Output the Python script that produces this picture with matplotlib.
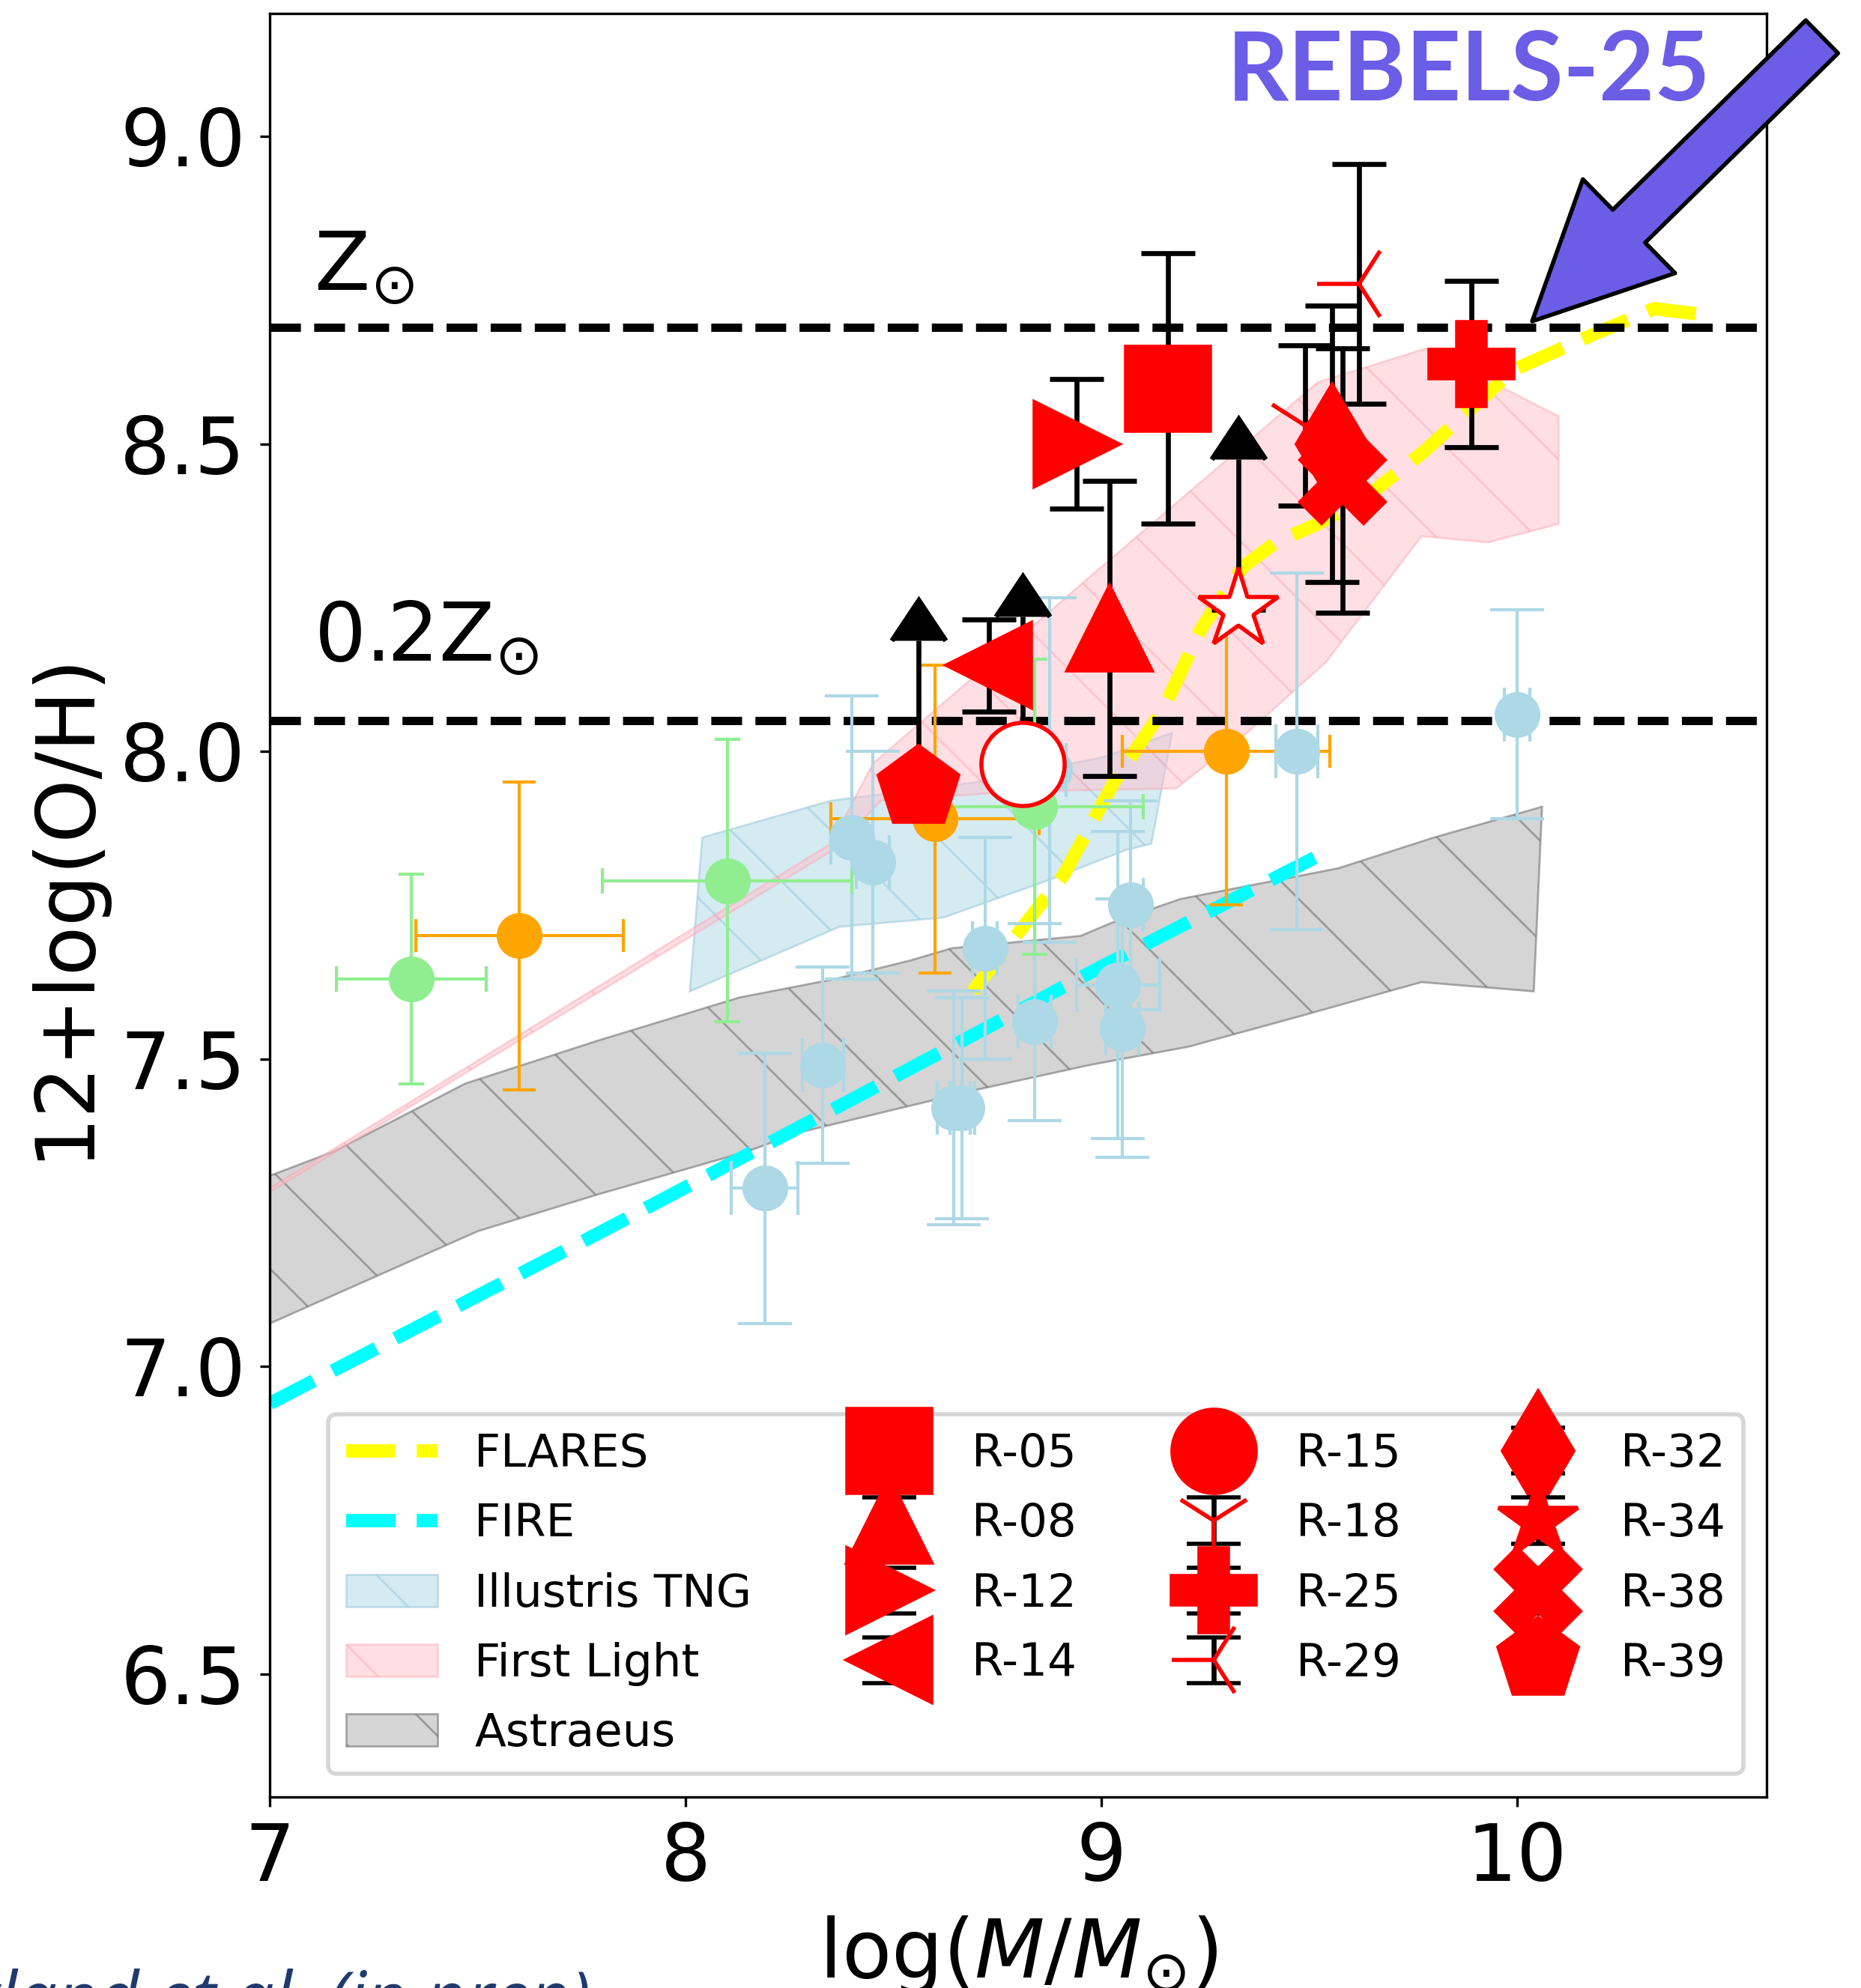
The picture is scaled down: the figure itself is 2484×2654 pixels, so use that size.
import numpy as np
import matplotlib
matplotlib.use("Agg")
import matplotlib.pyplot as plt
from matplotlib import font_manager
from matplotlib.patches import FancyArrowPatch, ArrowStyle

# ---------------- data ----------------
# Model curves
flares_x = [8.69, 8.91, 9.03, 9.15, 9.24, 9.29, 9.34, 9.42, 9.52, 9.63, 9.78, 9.99, 10.19, 10.33, 10.45]
flares_y = [7.61, 7.80, 7.95, 8.07, 8.20, 8.25, 8.30, 8.34, 8.37, 8.41, 8.49, 8.62, 8.68, 8.72, 8.71]

fire_x = [7.00, 7.80, 8.50, 9.00, 9.55]
fire_y = [6.94, 7.22, 7.47, 7.65, 7.84]

# Illustris TNG band (polygon vertices: upper edge then lower edge reversed)
tng_x = [8.04, 8.35, 8.70, 9.00, 9.17, 9.12, 9.06, 8.87, 8.62, 8.37, 8.01]
tng_y = [7.86, 7.92, 7.95, 7.99, 8.03, 7.85, 7.84, 7.79, 7.73, 7.715, 7.61]

# First Light band
fl_x = [7.00, 8.35, 8.45, 9.00, 9.52, 9.78, 10.10, 10.10, 9.93, 9.77, 9.54, 9.35, 9.18, 8.80, 8.47, 8.36, 7.00]
fl_y = [7.290, 7.850, 7.98, 8.30, 8.60, 8.655, 8.545, 8.37, 8.34, 8.35, 8.145, 8.03, 7.94, 7.935, 7.92, 7.842, 7.284]

# Astraeus band
ast_x = [7.00, 7.155, 7.47, 7.79, 8.13, 8.36, 8.54, 8.64, 8.95, 9.02, 9.19, 9.57, 9.80, 10.06,
         10.04, 9.77, 9.48, 9.21, 8.97, 8.70, 8.27, 8.15, 7.79, 7.50, 7.00]
ast_y = [7.31, 7.35, 7.46, 7.53, 7.60, 7.63, 7.66, 7.68, 7.70, 7.72, 7.76, 7.81, 7.86, 7.91,
         7.61, 7.625, 7.57, 7.52, 7.49, 7.45, 7.38, 7.35, 7.28, 7.22, 7.07]

# Literature points
orange_x = [7.60, 8.60, 9.30]
orange_y = [7.70, 7.89, 8.00]
orange_xerr = [0.25, 0.25, 0.25]
orange_yerr = [0.25, 0.25, 0.25]

green_x = [7.34, 8.10, 8.84]
green_y = [7.63, 7.79, 7.91]
green_xerr = [0.18, 0.30, 0.26]
green_yerr = [0.17, 0.23, 0.24]

blue_x = [8.19, 8.33, 8.40, 8.45, 8.72, 8.645, 8.665, 8.84, 8.875, 9.07, 9.04, 9.05, 9.47, 10.00]
blue_y = [7.29, 7.49, 7.86, 7.82, 7.68, 7.42, 7.42, 7.56, 7.97, 7.75, 7.62, 7.55, 8.00, 8.06]
blue_xerr = [0.08, 0.05, 0.05, 0.04, 0.03, 0.04, 0.03, 0.04, 0.04, 0.03, 0.10, 0.04, 0.05, 0.03]
blue_yerr = [0.22, 0.16, 0.23, 0.18, 0.18, 0.19, 0.18, 0.16, 0.28, 0.17, 0.25, 0.21, 0.29, 0.17]

# REBELS sources
red_names = ['R-05', 'R-08', 'R-12', 'R-14', 'R-15', 'R-18', 'R-25', 'R-29', 'R-32', 'R-34', 'R-38', 'R-39']
red_markers = ['s', '^', '>', '<', 'o', '1', 'P', '3', 'd', '*', 'X', 'p']
red_x = [9.16, 9.02, 8.94, 8.73, 8.81, 9.49, 9.89, 9.62, 9.555, 9.33, 9.58, 8.56]
red_y = [8.59, 8.20, 8.50, 8.14, 7.98, 8.53, 8.63, 8.76, 8.50, 8.23, 8.44, 7.94]
red_yerr = [0.22, 0.24, 0.105, 0.075, 0.24, 0.13, 0.135, 0.195, 0.225, 0.245, 0.215, 0.24]
red_lowerlim = [False, False, False, False, True, False, False, False, False, True, False, True]
red_open = [False, False, False, False, True, False, False, False, False, True, False, False]

z_sun = 8.69
z_02 = 8.05

# ---------------- figure ----------------
plt.rcParams['hatch.linewidth'] = 0.5
fig = plt.figure(figsize=(6.21, 6.635), dpi=400)
ax = fig.add_axes([0.14505, 0.09608, 0.80419, 0.89718])

# shaded model regions
ast = ax.fill(ast_x, ast_y, facecolor=(0.827, 0.827, 0.827, 0.95),
              edgecolor=(0.45, 0.45, 0.45, 0.6), hatch='\\', lw=0.5, zorder=1)[0]
tng = ax.fill(tng_x, tng_y, facecolor=(0.678, 0.847, 0.902, 0.5),
              edgecolor=(0.60, 0.78, 0.85, 0.55), hatch='\\', lw=0.5, zorder=1.1)[0]
fl = ax.fill(fl_x, fl_y, facecolor=(1.0, 0.753, 0.796, 0.5),
             edgecolor=(0.98, 0.65, 0.70, 0.45), hatch='\\', lw=0.5, zorder=1.2)[0]

# model lines
l_flares, = ax.plot(flares_x, flares_y, ls='--', color='yellow', lw=3.2, zorder=2)
l_fire, = ax.plot(fire_x, fire_y, ls='--', color='cyan', lw=3.2, zorder=2)

# reference metallicity lines
ax.axhline(z_sun, color='k', ls='--', lw=2, zorder=2.2)
ax.axhline(z_02, color='k', ls='--', lw=2, zorder=2.2)
ax.text(7.105, 8.751, r'Z$_{\odot}$', fontsize=19.5)
ax.text(7.105, 8.148, r'0.2Z$_{\odot}$', fontsize=19.5)

# literature points
ax.errorbar(blue_x, blue_y, xerr=blue_xerr, yerr=blue_yerr, fmt='o', color='lightblue',
            ms=10, elinewidth=0.75, capsize=6.5, capthick=0.75, zorder=2.5)
ax.errorbar(green_x, green_y, xerr=green_xerr, yerr=green_yerr, fmt='o', color='lightgreen',
            ms=10, elinewidth=0.75, capsize=3, capthick=0.75, zorder=2.5)
ax.errorbar(orange_x, orange_y, xerr=orange_xerr, yerr=orange_yerr, fmt='o', color='orange',
            ms=10, elinewidth=0.75, capsize=4, capthick=0.75, zorder=2.5)

# REBELS sources
red_handles = []
for name, m, x, y, e, lim, op in zip(red_names, red_markers, red_x, red_y, red_yerr,
                                      red_lowerlim, red_open):
    ax.errorbar([x], [y], yerr=[e], lolims=[lim], fmt='none', color='k', ecolor='k',
                elinewidth=1.2, capsize=6.5, capthick=1.2, zorder=3)
    fc = 'white' if op else 'red'
    ax.plot([x], [y], ls='none', marker=m, ms=20, mfc=fc, mec='red', mew=1.0, zorder=4)
    # legend handle (filled symbol with error bars)
    h = ax.errorbar([np.nan], [np.nan], yerr=[0.1], fmt=m, color='red', ms=20,
                    ecolor='k', elinewidth=1.2, capsize=6.5, capthick=1.2, mew=1.0)
    red_handles.append(h)

ax.set_xlim(7.0, 10.6)
ax.set_ylim(6.3, 9.2)
ax.set_xticks([7, 8, 9, 10])
ax.set_yticks([6.5, 7.0, 7.5, 8.0, 8.5, 9.0])
ax.tick_params(labelsize=19, length=2.3, width=0.6)
for s in ax.spines.values():
    s.set_linewidth(0.6)
ax.set_xlabel(r'$\log(M/M_{\odot})$', fontsize=19.5)
ax.set_ylabel('12+log(O/H)', fontsize=19.5)

handles = [l_flares, l_fire, tng, fl, ast] + red_handles
labels = ['FLARES', 'FIRE', 'Illustris TNG', 'First Light', 'Astraeus'] + red_names
ax.legend(handles, labels, loc='lower right', ncol=4, fontsize=11, labelspacing=0.56)

# annotation
fig.text(0.6594, 0.9495, 'REBELS-25', color='#6C5DE6', fontsize=23,
         fontweight='bold', family=['Lato', 'DejaVu Sans'])
arrow = FancyArrowPatch(posA=(0.979, 0.9815), posB=(0.8233, 0.8384),
                        transform=fig.transFigure,
                        arrowstyle=ArrowStyle.Simple(head_length=1.0, head_width=0.97, tail_width=0.34),
                        mutation_scale=32.6, facecolor='#6C5DE6', edgecolor='k', lw=1.0,
                        shrinkA=0, shrinkB=0, clip_on=False)
fig.add_artist(arrow)

# credit line (partly cut off at the figure edge, as in the original)
try:
    font_manager.findfont(font_manager.FontProperties(family='Liberation Sans Narrow'),
                          fallback_to_default=False)
    credit_family, credit_size = ['Liberation Sans Narrow', 'DejaVu Sans'], 20.5
except Exception:
    credit_family, credit_size = ['Open Sans', 'DejaVu Sans'], 17
fig.text(0.3175, -0.017, 'Rowland et al. (in prep)', ha='right', va='baseline',
         style='italic', color='#1F3A6E', fontsize=credit_size, family=credit_family)

fig.savefig('out.png', dpi=400)
